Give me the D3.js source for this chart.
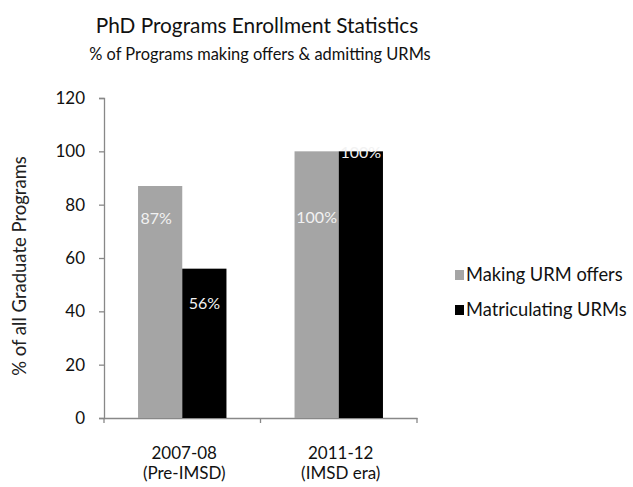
<!DOCTYPE html>
<html>
<head>
<meta charset="utf-8">
<script src="https://cdn.jsdelivr.net/npm/d3@7"></script>
<style>
  html, body { margin: 0; padding: 0; background: #fff; }
  svg { display: block; font-family: Lato, "Open Sans", sans-serif; }
</style>
</head>
<body>
<svg id="chart" width="633" height="487"></svg>
<script>
// Enrollment data
const categories = [["2007-08", "(Pre-IMSD)"], ["2011-12", "(IMSD era)"]];
const seriesNames = ["Making URM offers", "Matriculating URMs"];
const offers = [87, 100];
const matriculating = [56, 100];
const yTicks = [0, 20, 40, 60, 80, 100, 120];
const colors = ["#a5a5a5", "#000000"];

const svg = d3.select("#chart");
const margin = { left: 104, right: 216, top: 98, bottom: 69 };
const W = 633, H = 487;

const x0 = d3.scaleBand()
  .domain(categories.map(c => c[0]))
  .range([margin.left, W - margin.right])
  .paddingInner(0).paddingOuter(0);
const x1 = d3.scaleBand()
  .domain(seriesNames)
  .range([0, x0.bandwidth()])
  .paddingOuter(0.77).paddingInner(0);
const y = d3.scaleLinear().domain([0, 120]).range([H - margin.bottom, margin.top]);

// Titles
svg.append("text").attr("x", 257).attr("y", 33).attr("text-anchor", "middle")
  .attr("font-size", 20.8).attr("fill", "#111").text("PhD Programs Enrollment Statistics");
svg.append("text").attr("x", 260).attr("y", 60).attr("text-anchor", "middle")
  .attr("font-size", 16.4).attr("fill", "#111").text("% of Programs making offers & admitting URMs");

// Y axis
const yAxis = svg.append("g").attr("transform", `translate(${margin.left},0)`)
  .call(d3.axisLeft(y).tickValues(yTicks).tickSize(5).tickPadding(14));
yAxis.select(".domain").attr("stroke", "#888").attr("stroke-width", 1.3);
yAxis.selectAll(".tick line").attr("stroke", "#888").attr("stroke-width", 1.3);
yAxis.selectAll(".tick text").attr("font-size", 17).attr("fill", "#111")
  .attr("font-family", "Lato, sans-serif");

svg.append("text")
  .attr("transform", `translate(20,266) rotate(-90)`)
  .attr("text-anchor", "middle").attr("dy", "0.35em")
  .attr("font-size", 18.5).attr("fill", "#222").text("% of all Graduate Programs");

// X axis
const xAxis = svg.append("g").attr("transform", `translate(0,${y(0)})`)
  .call(d3.axisBottom(x0).tickSize(0).tickFormat(""));
xAxis.select(".domain").attr("stroke", "#888").attr("stroke-width", 1.3);
const xBounds = [margin.left, margin.left + x0.bandwidth(), W - margin.right];
xAxis.selectAll(".sep").data(xBounds).join("line").attr("class", "sep")
  .attr("x1", d => d).attr("x2", d => d).attr("y1", 0).attr("y2", 5)
  .attr("stroke", "#888").attr("stroke-width", 1.3);

// Two-line category labels
const catLabels = svg.append("g");
categories.forEach(c => {
  const cx = x0(c[0]) + x0.bandwidth() / 2 + 2;
  c.forEach((line, li) => {
    catLabels.append("text").attr("text-anchor", "middle")
      .attr("x", cx).attr("y", 459 + li * 20)
      .attr("font-size", 17).attr("fill", "#111").text(line);
  });
});

// Bars
const rows = categories.map((c, i) => ({ cat: c[0], vals: [offers[i], matriculating[i]] }));
// value label placement relative to each bar's top centre
const labelDrop = [[38, 40], [72, 7]];
const labelShift = [[-4, 0], [0, 0]];
const g = svg.append("g");
rows.forEach((r, ci) => {
  r.vals.forEach((v, si) => {
    const bx = x0(r.cat) + x1(seriesNames[si]);
    g.append("rect").attr("x", bx).attr("y", y(v))
      .attr("width", x1.bandwidth()).attr("height", y(0) - y(v))
      .attr("fill", colors[si]);
    g.append("text")
      .attr("x", bx + x1.bandwidth() / 2 + labelShift[ci][si])
      .attr("y", y(v) + labelDrop[ci][si])
      .attr("text-anchor", "middle").attr("font-size", 16).attr("fill", "#f2f2f2")
      .text(v + "%");
  });
});

// Legend
const legend = svg.append("g");
seriesNames.forEach((s, i) => {
  const ly = 275 + i * 35;
  legend.append("rect").attr("x", 455).attr("y", ly - 5).attr("width", 9).attr("height", 10)
    .attr("fill", colors[i]);
  legend.append("text").attr("x", 466).attr("y", ly).attr("dy", "0.35em")
    .attr("font-size", 18.3).attr("fill", "#111").text(s);
});
</script>
</body>
</html>
